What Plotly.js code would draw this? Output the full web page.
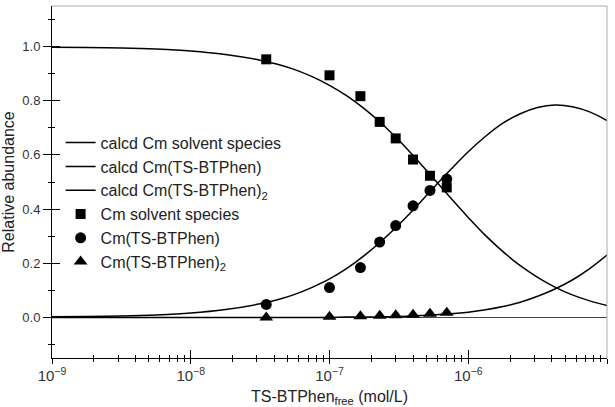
<!DOCTYPE html>
<html>
<head>
<meta charset="utf-8">
<script src="https://cdn.plot.ly/plotly-3.0.1.min.js"></script>
<style>html,body{margin:0;padding:0;background:#fff;}#chart{width:615px;height:407px;}</style>
</head>
<body>
<div id="chart"></div>
<script>
// Calculated speciation curves, x = free ligand (mol/L)
const curveX = [1e-9, 1.778e-9, 3.162e-9, 5.623e-9, 1e-8, 1.778e-8, 3.162e-8, 4.217e-8, 5.623e-8, 7.499e-8,
                1e-7, 1.334e-7, 1.778e-7, 2.371e-7, 3.162e-7, 4.217e-7, 5.623e-7, 7.499e-7,
                1e-6, 1.334e-6, 1.778e-6, 2.371e-6, 3.162e-6, 4.217e-6, 5.623e-6, 7.499e-6, 1e-5];
const calcSolvent = [0.998, 0.997, 0.995, 0.991, 0.984, 0.971, 0.950, 0.935, 0.915, 0.889,
                     0.857, 0.818, 0.771, 0.716, 0.654, 0.585, 0.513, 0.440,
                     0.369, 0.302, 0.243, 0.191, 0.148, 0.112, 0.083, 0.061, 0.044];
const calcML1 = [0.002, 0.003, 0.005, 0.009, 0.016, 0.029, 0.050, 0.065, 0.085, 0.111,
                 0.142, 0.181, 0.228, 0.282, 0.343, 0.409, 0.479, 0.547,
                 0.612, 0.669, 0.717, 0.752, 0.775, 0.784, 0.778, 0.759, 0.727];
const calcML2 = [0.000, 0.000, 0.000, 0.000, 0.000, 0.000, 0.000, 0.000, 0.000, 0.000,
                 0.000, 0.001, 0.001, 0.002, 0.003, 0.006, 0.009, 0.013,
                 0.019, 0.028, 0.040, 0.056, 0.078, 0.105, 0.138, 0.180, 0.230];

// Measured data points
const dataX = [3.5e-8, 1.0e-7, 1.67e-7, 2.3e-7, 3.0e-7, 4.0e-7, 5.3e-7, 7.0e-7];
const measSolvent = [0.953, 0.894, 0.817, 0.722, 0.661, 0.583, 0.523, 0.480];
const measML1 = [0.048, 0.110, 0.184, 0.278, 0.339, 0.412, 0.469, 0.511];
const measML2 = [0.000, 0.002, 0.004, 0.006, 0.008, 0.010, 0.013, 0.017];

const names = ['calcd Cm solvent species', 'calcd Cm(TS-BTPhen)', 'calcd Cm(TS-BTPhen)<sub>2</sub>',
               'Cm solvent species', 'Cm(TS-BTPhen)', 'Cm(TS-BTPhen)<sub>2</sub>'];

const lineStyle = {color: '#000', width: 1.5, shape: 'spline', smoothing: 1};
const traces = [
  {x: curveX, y: calcSolvent, mode: 'lines', name: names[0], line: lineStyle, hoverinfo: 'skip'},
  {x: curveX, y: calcML1, mode: 'lines', name: names[1], line: lineStyle, hoverinfo: 'skip'},
  {x: curveX, y: calcML2, mode: 'lines', name: names[2], line: lineStyle, hoverinfo: 'skip'},
  {x: dataX, y: measSolvent, mode: 'markers', name: names[3], marker: {symbol: 'square', size: 10, color: '#000'}},
  {x: dataX, y: measML1, mode: 'markers', name: names[4], marker: {symbol: 'circle', size: 11, color: '#000'}},
  {x: dataX, y: measML2, mode: 'markers', name: names[5], marker: {symbol: 'triangle-up', size: 12, color: '#000'}},
  {x: [1e-9], y: [0], xaxis: 'x2', yaxis: 'y2', mode: 'none', showlegend: false, hoverinfo: 'skip'}
];

const font = 'Liberation Sans, Arial, sans-serif';
const layout = {
  width: 615, height: 407,
  margin: {l: 52, r: 8, t: 6, b: 49},
  paper_bgcolor: '#fff', plot_bgcolor: '#fff',
  font: {family: font, color: '#222'},
  showlegend: true,
  legend: {x: 0.0155, y: 0.66, xanchor: 'left', yanchor: 'top', bgcolor: 'rgba(0,0,0,0)',
           font: {size: 16, family: font, color: '#222'}, tracegroupgap: 0},
  xaxis: {type: 'log', range: [-9, -5], dtick: 1, exponentformat: 'power',
          showgrid: false, zeroline: false, showline: true, linecolor: '#000', linewidth: 1,
          ticks: 'outside', ticklen: 5, tickcolor: '#000', tickwidth: 1,
          minor: {ticks: 'outside', ticklen: 3, tickcolor: '#000', dtick: 'D1', showgrid: false},
          tickfont: {size: 12, color: '#333'},
          title: {text: 'TS-BTPhen<sub>free</sub> (mol/L)', font: {size: 16, color: '#222'}, standoff: 7}},
  yaxis: {range: [-0.15, 1.15], dtick: 0.2, tick0: 0, tickformat: '.1f',
          showgrid: false, zeroline: true, zerolinecolor: '#444', zerolinewidth: 1,
          showline: true, linecolor: '#000', linewidth: 1,
          ticks: 'outside', ticklen: 8, tickcolor: '#000', tickwidth: 1,
          minor: {ticks: 'outside', ticklen: 3, tickcolor: '#000', dtick: 0.1, showgrid: false},
          tickfont: {size: 13, color: '#333'},
          title: {text: 'Relative abundance', font: {size: 16, color: '#222'}, standoff: 5}},
  xaxis2: {type: 'log', range: [-9, -5], dtick: 1, overlaying: 'x', anchor: 'y2', side: 'bottom',
           showgrid: false, zeroline: false, showline: false, showticklabels: false,
           ticks: 'inside', ticklen: 8, tickcolor: '#000', tickwidth: 1,
           minor: {ticks: 'inside', ticklen: 3, tickcolor: '#000', dtick: 'D1', showgrid: false}},
  yaxis2: {range: [-0.15, 1.15], dtick: 0.2, tick0: 0, overlaying: 'y', anchor: 'x2', side: 'left',
           showgrid: false, zeroline: false, showline: false, showticklabels: false,
           ticks: 'inside', ticklen: 8, tickcolor: '#000', tickwidth: 1,
           minor: {ticks: 'inside', ticklen: 3, tickcolor: '#000', dtick: 0.1, showgrid: false}},
  shapes: [
    {type: 'line', xref: 'paper', yref: 'paper', x0: 0, x1: 1, y0: 1, y1: 1, line: {color: '#aaa', width: 1}},
    {type: 'line', xref: 'paper', yref: 'paper', x0: 1, x1: 1, y0: 0, y1: 1, line: {color: '#aaa', width: 1}}
  ]
};

Plotly.newPlot('chart', traces, layout, {displayModeBar: false, staticPlot: true});
</script>
</body>
</html>
